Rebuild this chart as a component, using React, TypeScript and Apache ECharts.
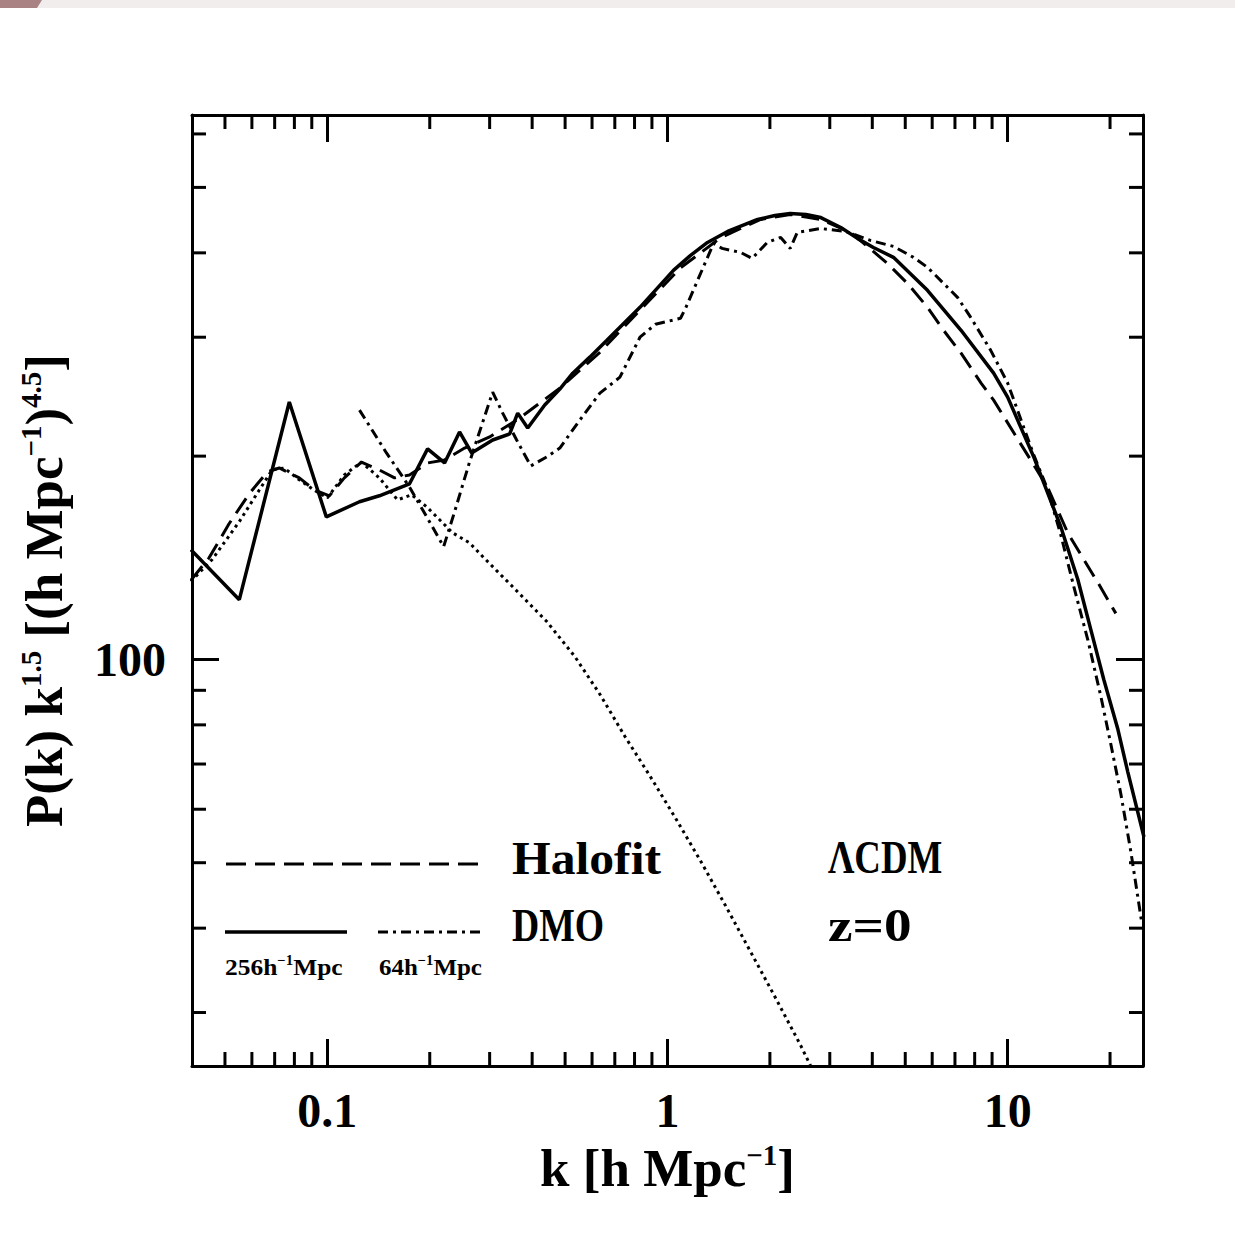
import React, { useEffect, useRef } from "react";
import * as echarts from "echarts";

const FONT = '"Liberation Serif", "Times New Roman", serif';

const X_MIN = 0.04;
const X_MAX = 25;
const Y_MIN = 25;
const Y_MAX = 640;

const xTickLabels = [0.1, 1, 10];
const yTickLabels = [100];
const xMinorTicks = [0.05, 0.06, 0.07, 0.08, 0.09, 0.2, 0.3, 0.4, 0.5, 0.6, 0.7, 0.8, 0.9, 2, 3, 4, 5, 6, 7, 8, 9, 20];
const yMinorTicks = [30, 40, 50, 60, 70, 80, 90, 200, 300, 400, 500, 600];

// Linear theory (dotted)
const linearK = [0.0397, 0.0458, 0.0551, 0.063, 0.0689, 0.0747, 0.0827, 0.0915, 0.1, 0.1122, 0.1259, 0.1422, 0.1608, 0.1768, 0.1957, 0.2138, 0.2334, 0.2619, 0.2862, 0.3507, 0.4416, 0.5339, 0.6327, 0.7497, 0.888, 1.056, 1.251, 1.477, 1.75, 2.073, 2.465, 2.72];
const linearP = [130.5, 140.5, 160, 178, 191, 192, 184.5, 178, 173.5, 187.6, 196, 185.7, 172.3, 175.3, 168.3, 161, 154, 148.8, 142, 128.1, 113.8, 101.0, 88.8, 76.9, 67.2, 58.2, 50.3, 43.3, 37.0, 31.6, 26.8, 24.2];

// Halofit (dashed)
const halofitK = [0.0397, 0.0449, 0.0514, 0.0589, 0.0666, 0.0722, 0.0827, 0.0915, 0.1014, 0.1122, 0.1259, 0.1422, 0.1576, 0.1744, 0.1971, 0.2211, 0.2532, 0.3, 0.3677, 0.4824, 0.6327, 0.83, 1.092, 1.432, 1.641, 1.879, 2.295, 2.823, 3.459, 4.431, 5.074, 5.811, 6.479, 7.295, 8.355, 9.095, 11.93, 13.12, 15.02, 16.75, 18.41, 20.8];
const halofitP = [131, 141.4, 158.8, 175.9, 189.5, 192.1, 185.7, 178.3, 174.7, 185.7, 196, 190.8, 185.7, 187.6, 195.4, 197.4, 205.6, 213.5, 227.7, 252.2, 285, 328.9, 380, 421, 434.6, 448.2, 455.9, 448.2, 428.8, 385.9, 360.5, 332.2, 307.2, 284.1, 256.6, 242.1, 194.1, 179.6, 154, 140.5, 130, 117];

// DMO, 256 h^-1 Mpc box (solid)
const dmo256K = [0.0397, 0.0551, 0.0773, 0.0993, 0.1243, 0.1422, 0.1744, 0.1971, 0.2211, 0.2447, 0.2655, 0.3062, 0.3436, 0.3627, 0.3882, 0.4356, 0.4824, 0.5266, 0.591, 0.6635, 0.83, 1.041, 1.169, 1.311, 1.502, 1.841, 2.069, 2.295, 2.553, 2.823, 3.233, 3.617, 4.03, 4.616, 5.811, 7.295, 9.095, 10.0, 11.93, 14.33, 16.08, 17.56, 19.17, 21.09, 22.56, 25.16];
const dmo256P = [145.4, 122.6, 240.5, 162.6, 171.2, 174.7, 182, 205, 195.4, 217.2, 202.2, 211.3, 215.7, 231.6, 220.1, 238.1, 251.3, 265.4, 280.3, 296.9, 332.2, 376.8, 396.6, 414.4, 430.2, 448.2, 454.3, 457.3, 455.9, 451.1, 436.1, 420.2, 407.4, 393.9, 352, 307.2, 265.4, 244.6, 199.5, 157.2, 131.3, 110.7, 93.4, 78.8, 68.1, 54.6];

// DMO, 64 h^-1 Mpc box (dash-dot)
const dmo64K = [0.1243, 0.1492, 0.1744, 0.1997, 0.2197, 0.2366, 0.2619, 0.3062, 0.3277, 0.3602, 0.3962, 0.4416, 0.4824, 0.5524, 0.6327, 0.7247, 0.83, 0.9218, 1.092, 1.13, 1.226, 1.366, 1.447, 1.641, 1.774, 1.964, 2.152, 2.295, 2.407, 2.823, 3.344, 3.95, 4.616, 5.287, 5.811, 6.479, 7.122, 7.78, 8.91, 10.0, 11.93, 13.12, 14.33, 15.65, 17.2, 18.79, 20.11, 21.52, 23.03, 24.82];
const dmo64P = [234, 202.2, 180, 159.9, 146.9, 165.4, 196.1, 248.8, 231.6, 211.3, 193.4, 199.5, 205.6, 226.2, 247.9, 261.8, 300, 313.5, 320, 331.1, 364.2, 413, 406.1, 400.6, 392.5, 414.4, 421.6, 406.1, 428.8, 434.6, 430.2, 417.3, 408.9, 393.9, 380.7, 360.5, 343.7, 321.2, 287.1, 256.6, 200.9, 178.3, 152.9, 128.2, 107, 88.2, 74.9, 63.2, 51.9, 40.6];

const legendNames = ["Halofit", "DMO"];
const boxNames = ["256h", "64h"];
const notes = ["\u039BCDM", "z=0"];

const pairs = (ks: number[], ps: number[]) => ks.map((k, i) => [k, ps[i]]);
const near = (v: number, list: number[]) =>
  list.find((t) => Math.abs(Math.log10(v / t)) < 1e-6);

const BLACK = "#000";

export default function App() {
  const ref = useRef<HTMLDivElement>(null);

  useEffect(() => {
    if (!ref.current) return;
    const chart = echarts.init(ref.current, undefined, { renderer: "svg" });

    const tickStyle = { color: BLACK, width: 3 };
    const lineAxis = { show: true, onZero: false, lineStyle: { color: BLACK, width: 3 } };

    const mainRich = (fs: number) => ({
      m: { fontFamily: FONT, fontWeight: "bold", fontSize: fs, lineHeight: 54, verticalAlign: "bottom", color: BLACK },
      s: { fontFamily: FONT, fontWeight: "bold", fontSize: 29, lineHeight: 40, verticalAlign: "top", color: BLACK },
    });

    const smallRich = {
      a: { fontFamily: FONT, fontWeight: "bold", fontSize: 24, lineHeight: 26, verticalAlign: "bottom", fill: BLACK, color: BLACK },
      b: { fontFamily: FONT, fontWeight: "bold", fontSize: 14, lineHeight: 18, verticalAlign: "top", fill: BLACK, color: BLACK },
    };

    const textStyle = (text: string) => ({
      text,
      fontFamily: FONT,
      fontWeight: "bold",
      fontSize: 46,
      fill: BLACK,
      align: "left",
      verticalAlign: "middle",
    });

    const option: any = {
      animation: false,
      backgroundColor: "#ffffff",
      grid: { left: 192, top: 115, width: 951, height: 951, containLabel: false, outerBoundsMode: "none" },
      xAxis: [
        {
          type: "log",
          logBase: 10,
          min: X_MIN,
          max: X_MAX,
          position: "bottom",
          axisLine: lineAxis,
          axisTick: { show: true, inside: true, length: 27, lineStyle: tickStyle },
          axisLabel: {
            show: true,
            margin: 20,
            fontFamily: FONT,
            fontWeight: "bold",
            fontSize: 48,
            color: BLACK,
            showMinLabel: false,
            showMaxLabel: false,
            formatter: (v: number) => {
              const m = near(v, xTickLabels);
              return m === undefined ? "" : String(m);
            },
          },
          splitLine: { show: false },
          name: "{m|k [h Mpc}{s|\u22121}{m|]}",
          nameLocation: "middle",
          nameGap: 74,
          nameTextStyle: { rich: mainRich(53) },
        },
        {
          type: "log",
          logBase: 10,
          min: X_MIN,
          max: X_MAX,
          position: "top",
          axisLine: lineAxis,
          axisTick: { show: true, inside: true, length: 27, lineStyle: tickStyle },
          axisLabel: { show: false },
          splitLine: { show: false },
        },
      ],
      yAxis: [
        {
          type: "log",
          logBase: 10,
          min: Y_MIN,
          max: Y_MAX,
          position: "left",
          axisLine: lineAxis,
          axisTick: { show: true, inside: true, length: 27, lineStyle: tickStyle },
          axisLabel: {
            show: true,
            margin: 26,
            fontFamily: FONT,
            fontWeight: "bold",
            fontSize: 48,
            color: BLACK,
            showMinLabel: false,
            showMaxLabel: false,
            formatter: (v: number) => {
              const m = near(v, yTickLabels);
              return m === undefined ? "" : String(m);
            },
          },
          splitLine: { show: false },
          name: "{m|P(k) k}{s|1.5}{m| [(h Mpc}{s|\u22121}{m|)}{s|4.5}{m|]}",
          nameLocation: "middle",
          nameRotate: 90,
          nameGap: 122,
          nameTextStyle: { rich: mainRich(53) },
        },
        {
          type: "log",
          logBase: 10,
          min: Y_MIN,
          max: Y_MAX,
          position: "right",
          axisLine: lineAxis,
          axisTick: { show: true, inside: true, length: 27, lineStyle: tickStyle },
          axisLabel: { show: false },
          splitLine: { show: false },
        },
      ],
      series: [
        {
          name: "Linear",
          type: "line",
          data: pairs(linearK, linearP),
          symbol: "none",
          clip: true,
          silent: true,
          lineStyle: { color: BLACK, width: 3, type: [3, 4], cap: "butt" },
          z: 3,
        },
        {
          name: "Halofit",
          type: "line",
          data: pairs(halofitK, halofitP),
          symbol: "none",
          clip: true,
          silent: true,
          lineStyle: { color: BLACK, width: 3, type: [18, 9], cap: "butt" },
          z: 4,
        },
        {
          name: "DMO 64",
          type: "line",
          data: pairs(dmo64K, dmo64P),
          symbol: "none",
          clip: true,
          silent: true,
          lineStyle: { color: BLACK, width: 3, type: [10, 5, 3, 5], cap: "butt" },
          z: 5,
        },
        {
          name: "DMO 256",
          type: "line",
          data: pairs(dmo256K, dmo256P),
          symbol: "none",
          clip: true,
          silent: true,
          lineStyle: { color: BLACK, width: 3.5 },
          z: 6,
        },
        {
          name: "xMinor",
          type: "custom",
          clip: false,
          silent: true,
          data: xMinorTicks.map((v) => [v, Y_MIN]),
          renderItem: (_p: any, api: any) => {
            const v = api.value(0);
            const b = api.coord([v, Y_MIN]);
            const t = api.coord([v, Y_MAX]);
            const st = { stroke: BLACK, lineWidth: 3 };
            return {
              type: "group",
              children: [
                { type: "line", shape: { x1: b[0], y1: b[1], x2: b[0], y2: b[1] - 14 }, style: st },
                { type: "line", shape: { x1: t[0], y1: t[1], x2: t[0], y2: t[1] + 14 }, style: st },
              ],
            };
          },
          z: 10,
        },
        {
          name: "yMinor",
          type: "custom",
          clip: false,
          silent: true,
          data: yMinorTicks.map((v) => [X_MIN, v]),
          renderItem: (_p: any, api: any) => {
            const v = api.value(1);
            const l = api.coord([X_MIN, v]);
            const r = api.coord([X_MAX, v]);
            const st = { stroke: BLACK, lineWidth: 3 };
            return {
              type: "group",
              children: [
                { type: "line", shape: { x1: l[0], y1: l[1], x2: l[0] + 14, y2: l[1] }, style: st },
                { type: "line", shape: { x1: r[0], y1: r[1], x2: r[0] - 14, y2: r[1] }, style: st },
              ],
            };
          },
          z: 10,
        },
      ],
      graphic: [
        { type: "rect", shape: { x: 0, y: 0, width: 1235, height: 8 }, style: { fill: "#f2eded" }, silent: true },
        { type: "polygon", shape: { points: [[0, 0], [42, 0], [37, 8], [0, 8]] }, style: { fill: "#a98384" }, silent: true },
        // legend samples
        { type: "line", shape: { x1: 226, y1: 864, x2: 478, y2: 864 }, style: { stroke: BLACK, lineWidth: 3, lineDash: [20, 9] }, silent: true },
        { type: "line", shape: { x1: 225, y1: 932, x2: 347, y2: 932 }, style: { stroke: BLACK, lineWidth: 3.5 }, silent: true },
        { type: "line", shape: { x1: 378, y1: 932, x2: 481, y2: 932 }, style: { stroke: BLACK, lineWidth: 3, lineDash: [10, 5, 3, 5] }, silent: true },
        { type: "text", x: 512, y: 858, scaleX: 1.08, style: textStyle(legendNames[0]), silent: true },
        { type: "text", x: 512, y: 926, scaleX: 0.82, style: textStyle(legendNames[1]), silent: true },
        { type: "text", x: 828, y: 858, scaleX: 0.8, style: textStyle(notes[0]), silent: true },
        { type: "text", x: 828, y: 926, scaleX: 1.2, style: textStyle(notes[1]), silent: true },
        {
          type: "text",
          x: 225,
          y: 966,
          scaleX: 1.06,
          style: { text: `{a|${boxNames[0]}}{b|\u22121}{a|Mpc}`, rich: smallRich, align: "left", verticalAlign: "middle", fill: BLACK },
          silent: true,
        },
        {
          type: "text",
          x: 379,
          y: 966,
          scaleX: 1.04,
          style: { text: `{a|${boxNames[1]}}{b|\u22121}{a|Mpc}`, rich: smallRich, align: "left", verticalAlign: "middle", fill: BLACK },
          silent: true,
        },
      ],
    };

    chart.setOption(option);
    return () => chart.dispose();
  }, []);

  return (
    <div
      ref={ref}
      style={{ position: "absolute", left: 0, top: 0, width: 1235, height: 1254, background: "#fff" }}
    />
  );
}
